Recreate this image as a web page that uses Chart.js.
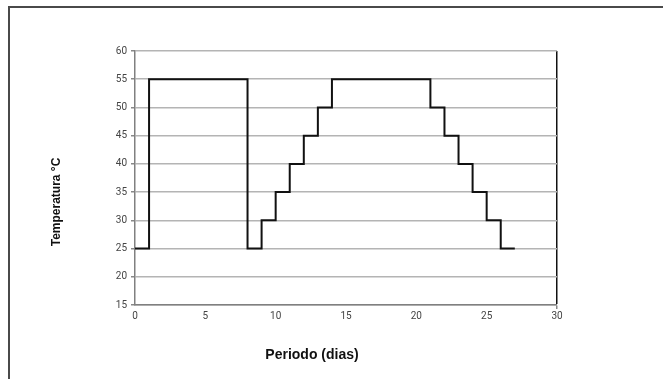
<!DOCTYPE html>
<html lang="pt">
<head>
  <meta charset="UTF-8" />
  <title>Temperatura por periodo</title>
  <script src="https://cdn.jsdelivr.net/npm/chart.js"></script>
  <style>
    html, body {
      margin: 0;
      width: 663px;
      height: 379px;
      overflow: hidden;
      background: #fff;
    }
    .frame {
      position: absolute;
      left: 8px;
      top: 6px;
      width: 800px;
      height: 500px;
      border-top: 2px solid #4a4a4a;
      border-left: 2px solid #4a4a4a;
    }
    canvas {
      position: absolute;
      left: 0;
      top: 0;
    }
  </style>
</head>
<body>
  <div class="frame"></div>
  <canvas id="tempChart" width="663" height="379"></canvas>

  <script>
    // dias e temperaturas do ciclo
    const dias = [0, 1, 8, 9, 10, 11, 12, 13, 14, 21, 22, 23, 24, 25, 26, 27];
    const temperaturas = [25, 55, 25, 30, 35, 40, 45, 50, 55, 50, 45, 40, 35, 30, 25, 25];
    const xTicks = [0, 5, 10, 15, 20, 25, 30];
    const yTicks = [15, 20, 25, 30, 35, 40, 45, 50, 55, 60];

    const tickFont = { family: "'Liberation Sans Narrow', 'Roboto', sans-serif", size: 10 };

    // axis titles at fixed spots
    const axisTitles = {
      id: "axisTitles",
      afterDraw(chart) {
        const ctx = chart.ctx;
        ctx.save();
        ctx.fillStyle = "#111";
        ctx.textAlign = "center";
        ctx.textBaseline = "middle";
        ctx.font = "bold 14px 'Liberation Sans', Arial, sans-serif";
        ctx.fillText("Periodo (dias)", 312, 355);
        ctx.translate(57, 202);
        ctx.rotate(-Math.PI / 2);
        ctx.font = "bold 12px 'Liberation Sans', Arial, sans-serif";
        ctx.fillText("Temperatura °C", 0, 0);
        ctx.restore();
      }
    };

    new Chart(document.getElementById("tempChart"), {
      type: "line",
      data: {
        datasets: [{
          data: dias.map((d, i) => ({ x: d, y: temperaturas[i] })),
          borderColor: "#111",
          borderWidth: 2,
          stepped: "before",
          pointRadius: 0,
          fill: false
        }]
      },
      options: {
        responsive: false,
        animation: false,
        layout: { padding: { left: 0, top: 51, right: 106, bottom: 0 } },
        plugins: {
          legend: { display: false },
          tooltip: { enabled: false }
        },
        scales: {
          x: {
            type: "linear",
            min: 0,
            max: 30,
            afterFit: (s) => { s.height = 74; },
            afterBuildTicks: (s) => { s.ticks = xTicks.map(v => ({ value: v })); },
            ticks: { font: tickFont, color: "#444", padding: 1, maxRotation: 0 },
            grid: {
              color: (c) => c.tick && c.tick.value === 30 ? "#111" : "rgba(0,0,0,0)",
              lineWidth: (c) => c.tick && c.tick.value === 30 ? 1.5 : 0,
              tickColor: "#888",
              tickLength: 4
            },
            border: { color: "#808080", width: 1.5 }
          },
          y: {
            min: 15,
            max: 60,
            afterFit: (s) => { s.width = 135; },
            afterBuildTicks: (s) => { s.ticks = yTicks.map(v => ({ value: v })); },
            ticks: { font: tickFont, color: "#444", padding: 4 },
            grid: {
              color: "#b4b4b4",
              lineWidth: 1.5,
              tickColor: "#888",
              tickLength: 4
            },
            border: { color: "#808080", width: 1.5 }
          }
        }
      },
      plugins: [axisTitles]
    });
  </script>
</body>
</html>
